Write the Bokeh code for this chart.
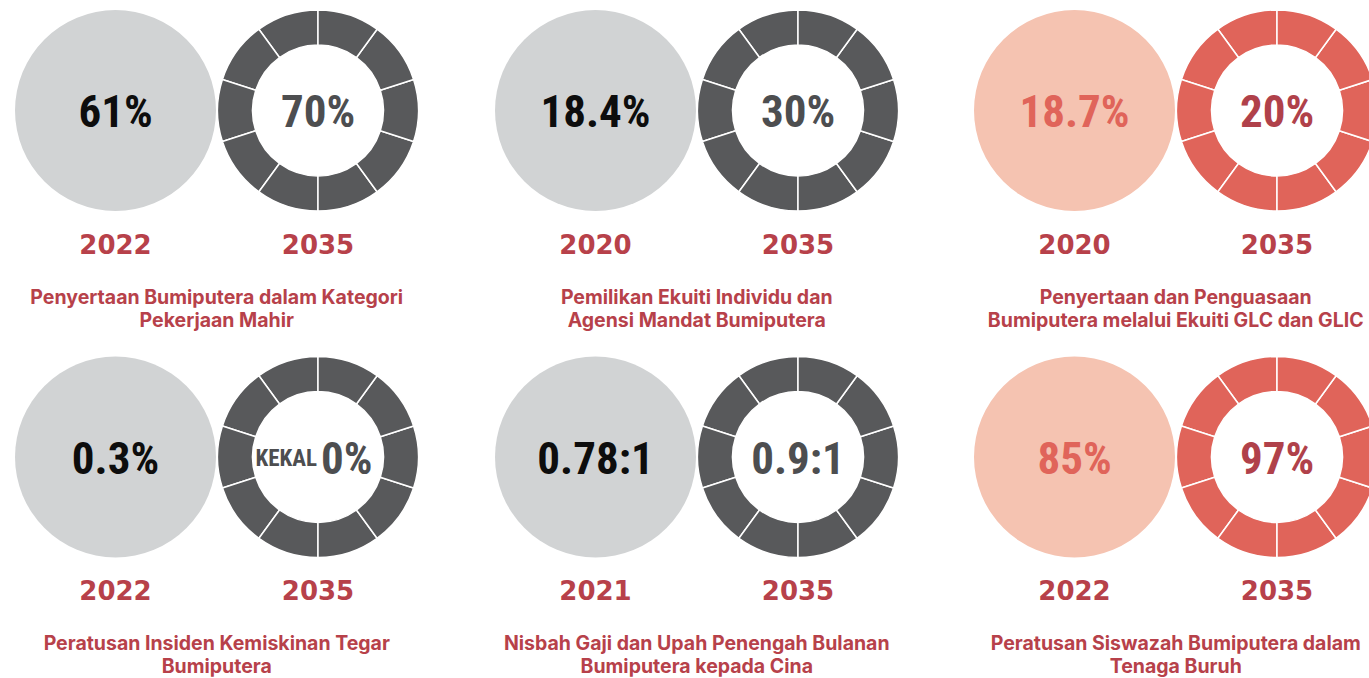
import math
from bokeh.plotting import figure
from bokeh.models import Range1d
from bokeh.core.properties import value
from bokeh.embed import file_html
from bokeh.resources import INLINE

# ---- data ----
base_values = ["61%", "18.4%", "18.7%", "0.3%", "0.78:1", "85%"]
target_values = ["70%", "30%", "20%", "0%", "0.9:1", "97%"]
target_prefix = ["", "", "", "KEKAL", "", ""]
base_years = ["2022", "2020", "2020", "2022", "2021", "2022"]
target_years = ["2035", "2035", "2035", "2035", "2035", "2035"]
titles_line1 = [
    "Penyertaan Bumiputera dalam Kategori",
    "Pemilikan Ekuiti Individu dan",
    "Penyertaan dan Penguasaan",
    "Peratusan Insiden Kemiskinan Tegar",
    "Nisbah Gaji dan Upah Penengah Bulanan",
    "Peratusan Siswazah Bumiputera dalam",
]
titles_line2 = [
    "Pekerjaan Mahir",
    "Agensi Mandat Bumiputera",
    "Bumiputera melalui Ekuiti GLC dan GLIC",
    "Bumiputera",
    "Bumiputera kepada Cina",
    "Tenaga Buruh",
]
themes = ["grey", "grey", "red", "grey", "grey", "red"]
n_segments = 10

# ---- styles ----
STYLE = {
    "grey": dict(circle="#d1d3d4", base_text="#0d0d0d", ring="#58595b", target_text="#4d4e50"),
    "red": dict(circle="#f5c3b1", base_text="#e0645a", ring="#e0645a", target_text="#b0414a"),
}
RED_TEXT = "#b7414a"
NUM_FONT = value("Roboto Condensed")
YEAR_FONT = value("DejaVu Sans")
TITLE_FONT = value("Inter")

col_x = [115, 595, 1074]
row_y = [110, 456.5]
ring_dx = 202.5
R = 100.5
R_IN = 65.5

p = figure(width=1369, height=678, output_backend="svg", toolbar_location=None,
           x_range=Range1d(0, 1369), y_range=Range1d(678, 0),
           min_border=0, outline_line_color=None)
p.axis.visible = False
p.grid.visible = False
p.background_fill_color = "white"
p.border_fill_color = "white"

seg = 2 * math.pi / n_segments
for i in range(6):
    cx = col_x[i % 3]
    cy = row_y[i // 3]
    st = STYLE[themes[i]]
    rx = cx + ring_dx
    # baseline circle
    p.circle(x=[cx], y=[cy], radius=R, fill_color=st["circle"], line_color=None)
    # target ring
    starts = [math.pi / 2 + k * seg for k in range(n_segments)]
    ends = [s + seg for s in starts]
    p.annular_wedge(x=[rx] * n_segments, y=[cy] * n_segments, inner_radius=R_IN, outer_radius=R,
                    start_angle=starts, end_angle=ends, fill_color=st["ring"],
                    line_color="white", line_width=1.5)
    # values
    vy = cy + 1
    p.text(x=[cx], y=[vy], text=[base_values[i]], text_font=NUM_FONT, text_font_style="bold",
           text_font_size="45px", text_color=st["base_text"], text_align="center",
           text_baseline="alphabetic")
    if target_prefix[i]:
        p.text(x=[rx - 1], y=[vy], text=[target_prefix[i]], text_font=NUM_FONT,
               text_font_style="bold", text_font_size="23px", text_color=st["target_text"],
               text_align="right", text_baseline="alphabetic")
        p.text(x=[rx + 3], y=[vy], text=[target_values[i]], text_font=NUM_FONT,
               text_font_style="bold", text_font_size="45px", text_color=st["target_text"],
               text_align="left", text_baseline="alphabetic")
    else:
        p.text(x=[rx], y=[vy], text=[target_values[i]], text_font=NUM_FONT,
               text_font_style="bold", text_font_size="45px", text_color=st["target_text"],
               text_align="center", text_baseline="alphabetic")
    # years
    p.text(x=[cx, rx], y=[cy + 133, cy + 133], text=[base_years[i], target_years[i]],
           text_font=YEAR_FONT, text_font_style="bold", text_font_size="26px",
           text_color=RED_TEXT, text_align="center", text_baseline="alphabetic")
    # titles
    mx = (cx + rx) / 2
    p.text(x=[mx, mx], y=[cy + 186, cy + 209], text=[titles_line1[i], titles_line2[i]],
           text_font=TITLE_FONT, text_font_style="bold", text_font_size="19.5px",
           text_color=RED_TEXT, text_align="center", text_baseline="alphabetic")

open("out.html", "w").write(file_html(p, INLINE))
